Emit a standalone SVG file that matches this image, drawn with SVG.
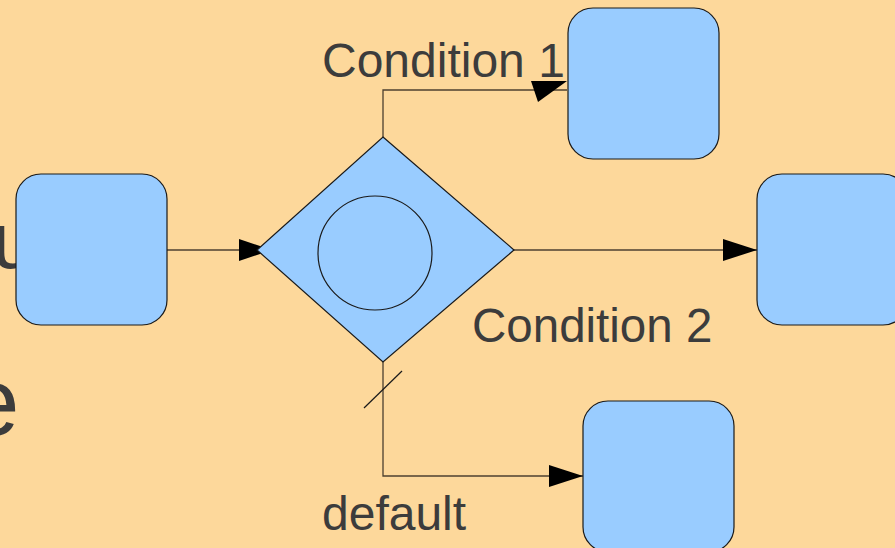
<svg xmlns="http://www.w3.org/2000/svg" width="895" height="548" viewBox="0 0 895 548">
<style>
.box{fill:#99ccff;stroke:#1a1a1a;stroke-width:1.2}
.lbl{font-family:"Liberation Sans",Arial,sans-serif;fill:#3c3c3c}
.conn{fill:none;stroke:#4d4030;stroke-width:1.3}
.head{fill:#000}
</style>
<rect width="895" height="548" fill="#fdd89b"/>
<g id="background-text">
<text class="lbl" x="-8" y="268" font-size="80">u</text>
<text class="lbl" x="-34" y="435" font-size="96">e</text>
</g>
<g id="connectors">
<line class="conn" x1="167" y1="250" x2="257" y2="250"/>
<polygon class="head" points="239,239 272,250 239,261"/>
<polyline class="conn" points="383,137 383,90 567,90"/>
<polygon class="head" points="531,81 567,81 538,102"/>
<line class="conn" x1="514" y1="250" x2="757" y2="250"/>
<polygon class="head" points="723,239 757,250 723,261"/>
<polyline class="conn" points="383,362 383,476 583,476"/>
<polygon class="head" points="549,465 583,476 549,487"/>
<line stroke="#1a1a1a" stroke-width="1.2" x1="364" y1="408" x2="402" y2="371"/>
</g>
<g id="left-task"><rect class="box" x="16" y="174" width="151" height="151" rx="25"/></g>
<g id="gateway">
<polygon class="box" points="383,137 514,250 383,362 257,250"/>
<circle cx="375" cy="253" r="57" fill="none" stroke="#1a1a1a" stroke-width="1.2"/>
</g>
<g id="task-1"><rect class="box" x="568" y="8" width="151" height="151" rx="25"/></g>
<g id="task-2"><rect class="box" x="757" y="174" width="151" height="151" rx="25"/></g>
<g id="task-default"><rect class="box" x="583" y="401" width="151" height="151" rx="25"/></g>
<g id="labels">
<text class="lbl" x="322" y="77" font-size="48">Condition 1</text>
<text class="lbl" x="472" y="342" font-size="47.5">Condition 2</text>
<text class="lbl" x="322" y="530" font-size="48">default</text>
</g>
</svg>
